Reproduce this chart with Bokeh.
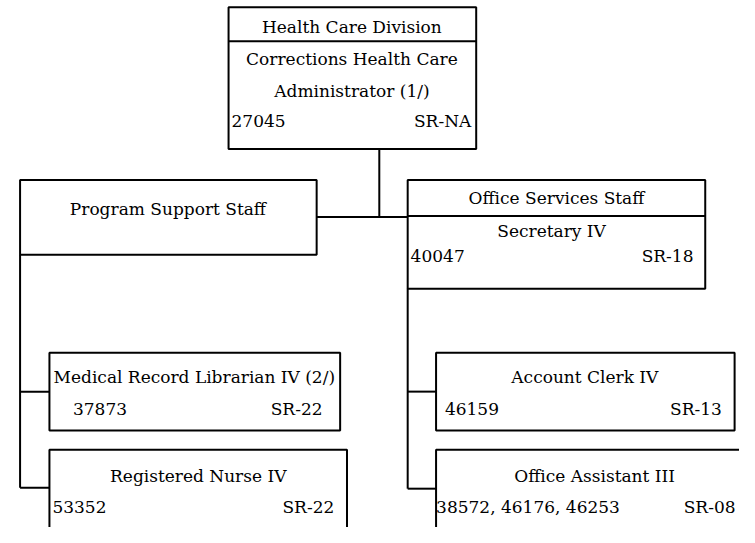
from bokeh.plotting import figure
from bokeh.models import Range1d
from bokeh.core.properties import value
from bokeh.embed import file_html
from bokeh.resources import INLINE

# ---- chart content (data) ----
centered_texts = ["Health Care Division", "Corrections Health Care", "Administrator (1/)",
                  "Program Support Staff", "Office Services Staff", "Secretary IV",
                  "Medical Record Librarian IV (2/)", "Registered Nurse IV",
                  "Account Clerk IV", "Office Assistant III"]
position_codes = ["27045", "40047", "37873", "53352", "46159", "38572, 46176, 46253"]
salary_grades = ["SR-NA", "SR-18", "SR-22", "SR-22", "SR-13"]
cut_grade = ["SR-08"]

# ---- layout (reference pixel coordinates, y downward) ----
box_l = [233, 20, 416, 50, 50, 445, 445]
box_r = [486, 323, 720, 347, 354, 750, 800]
box_t = [7, 185, 185, 363, 463, 363, 463]
box_b = [153, 262, 297, 443, 580, 443, 580]

seg_x0 = [233, 416, 387, 323, 20, 20, 20, 416, 416, 416]
seg_x1 = [486, 720, 387, 416, 20, 50, 50, 416, 445, 445]
seg_y0 = [42, 222, 153, 223, 262, 403, 502, 297, 403, 503]
seg_y1 = [42, 222, 223, 223, 502, 403, 502, 503, 403, 503]

ctr_x = [359, 359, 359, 171, 568, 563, 198, 202, 597, 607]
ctr_y = [27, 60, 93, 215, 203, 237, 388, 490, 388, 490]
code_x = [236, 419, 74, 53, 454, 445]
code_y = [124, 263, 421, 522, 421, 522]
grade_x = [481, 708, 329, 341, 737]
grade_y = [124, 263, 421, 522, 421]
cut_x = [698]
cut_y = [522]

p = figure(width=739, height=527, output_backend="svg", toolbar_location=None,
           x_range=Range1d(0, 755), y_range=Range1d(543, 0),
           min_border=0, background_fill_color="white", border_fill_color="white")
p.axis.visible = False
p.grid.visible = False
p.outline_line_color = None

p.quad(left=box_l, right=box_r, top=box_t, bottom=box_b,
       fill_color="white", line_color="black", line_width=2)
p.segment(x0=seg_x0, y0=seg_y0, x1=seg_x1, y1=seg_y1, line_color="black", line_width=2)

font = value("DejaVu Serif")
fs = "17px"
p.text(x=ctr_x, y=ctr_y, text=centered_texts, text_font=font, text_font_size=fs,
       text_align="center", text_baseline="middle", text_color="black")
p.text(x=code_x, y=code_y, text=position_codes, text_font=font, text_font_size=fs,
       text_align="left", text_baseline="middle", text_color="black")
p.text(x=grade_x, y=grade_y, text=salary_grades, text_font=font, text_font_size=fs,
       text_align="right", text_baseline="middle", text_color="black")
p.text(x=cut_x, y=cut_y, text=cut_grade, text_font=font, text_font_size=fs,
       text_align="left", text_baseline="middle", text_color="black")

open("out.html", "w").write(file_html(p, INLINE))
